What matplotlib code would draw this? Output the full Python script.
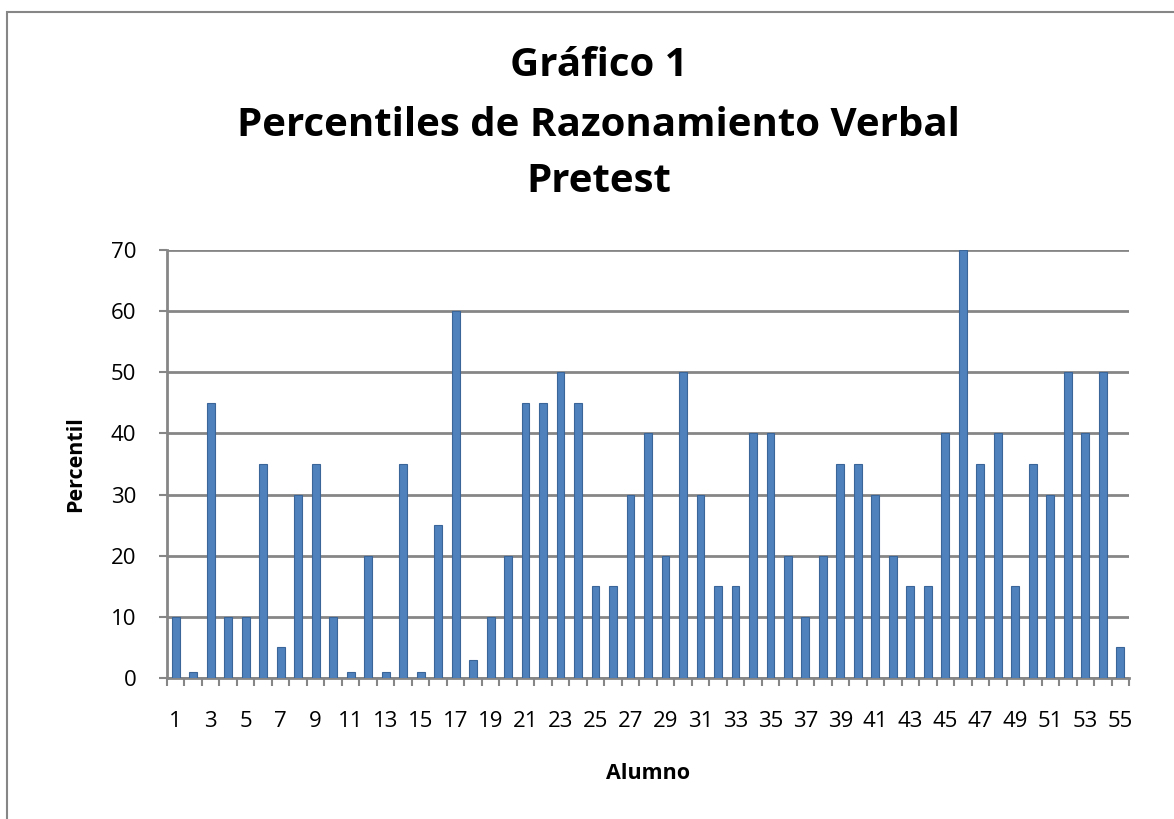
import matplotlib.pyplot as plt
import numpy as np
from matplotlib.patches import Rectangle

# datos del grafico
alumnos = list(range(1, 56))
percentiles = [10, 1, 45, 10, 10, 35, 5, 30, 35, 10,
               1, 20, 1, 35, 1, 25, 60, 3, 10, 20,
               45, 45, 50, 45, 15, 15, 30, 40, 20, 50,
               30, 15, 15, 40, 40, 20, 10, 20, 35, 35,
               30, 20, 15, 15, 40, 70, 35, 40, 15, 35,
               30, 50, 40, 50, 5]
yticks = [0, 10, 20, 30, 40, 50, 60, 70]

plt.rcParams['font.family'] = ['Open Sans', 'DejaVu Sans']

W, H = 1174, 819
fig = plt.figure(figsize=(W / 100, H / 100), dpi=100)

# marco del grafico (solo se ven el borde izquierdo y el superior)
fig.patches.append(Rectangle((7 / W, -0.2), 1.2, 1.2 - 12 / H, transform=fig.transFigure,
                             fill=False, edgecolor='#868686', linewidth=1.5))

left, right, top, bottom = 167, 1129, 250, 678
ax = fig.add_axes([left / W, 1 - bottom / H, (right - left) / W, (bottom - top) / H])

ax.bar(alumnos, percentiles, width=0.45, color='#4F81BD', edgecolor='#3A6598',
       linewidth=0.8, zorder=3)

ax.set_xlim(0.5, 55.5)
ax.set_ylim(0, 70)
ax.set_yticks(yticks)
ax.yaxis.grid(True, color='#868686', linewidth=2, zorder=0)

ax.set_xticks(np.arange(0.5, 56, 1))
ax.set_xticklabels([])
ax.set_xticks(alumnos[::2], minor=True)
ax.set_xticklabels([str(a) for a in alumnos[::2]], minor=True, fontsize=16)
ax.tick_params(axis='x', which='minor', length=0, pad=24)
ax.tick_params(axis='x', which='major', length=6, width=1.5, color='#868686')
ax.tick_params(axis='y', length=6, width=1.5, color='#868686', labelsize=16, pad=16)

for s in ['top', 'right']:
    ax.spines[s].set_visible(False)
for s in ['left', 'bottom']:
    ax.spines[s].set_color('#868686')
    ax.spines[s].set_linewidth(2)

ax.set_ylabel('Percentil', fontsize=15.5, fontweight='bold', labelpad=18)
ax.set_xlabel('Alumno', fontsize=15.5, fontweight='bold', labelpad=22)

fig.text(0.510, 1 - 65 / H, 'Gráfico 1', ha='center', va='center', fontsize=29, fontweight='bold')
fig.text(0.510, 1 - 125 / H, 'Percentiles de Razonamiento Verbal', ha='center', va='center',
         fontsize=29, fontweight='bold')
fig.text(0.510, 1 - 182 / H, 'Pretest', ha='center', va='center', fontsize=29, fontweight='bold')

fig.savefig('out.png', dpi=100)
